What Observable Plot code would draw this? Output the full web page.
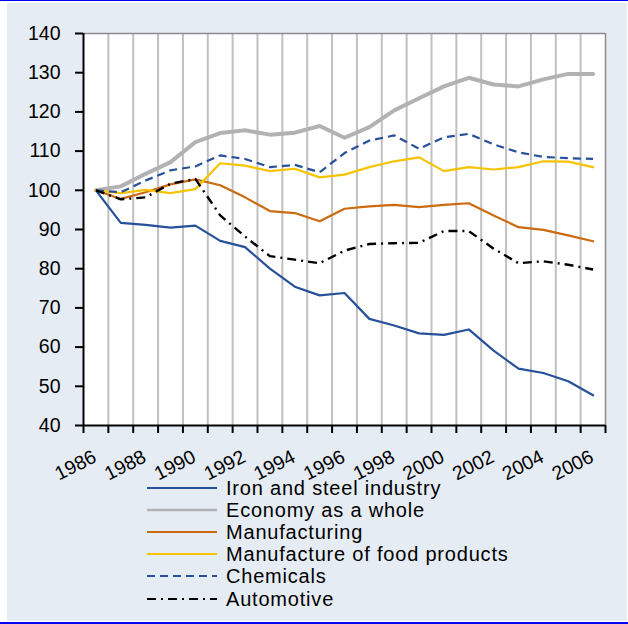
<!DOCTYPE html>
<html><head><meta charset="utf-8">
<script src="https://cdn.jsdelivr.net/npm/d3@7"></script>
<script src="https://cdn.jsdelivr.net/npm/@observablehq/plot@0.6"></script>
<style>
html,body{margin:0;padding:0;background:#fff;overflow:hidden;}
#page{position:relative;width:628px;height:624px;background:#fff;font-family:"Liberation Sans",Arial,sans-serif;}
#topline{position:absolute;left:0;top:0;width:628px;height:1px;background:#0000f0;}
#bg{position:absolute;left:7px;top:3px;width:620px;height:618px;background:#e6ecf4;}
#botline{position:absolute;left:0;top:622px;width:628px;height:2px;background:#0000f0;}
#chart{position:absolute;left:0;top:0;}
#legend{position:absolute;left:147px;top:477px;}
.row{display:flex;align-items:center;height:22.1px;}
.row svg{display:block;}
.row span{font-size:20px;line-height:22px;margin-left:9px;letter-spacing:0.8px;color:#000;white-space:nowrap;}
</style></head>
<body><div id="page"><div id="topline"></div><div id="bg"></div><div id="botline"></div><div id="chart"></div><div id="legend"></div></div>
<script>
const years = [1986,1987,1988,1989,1990,1991,1992,1993,1994,1995,1996,1997,1998,1999,2000,2001,2002,2003,2004,2005,2006];
const labelYears = [1986,1988,1990,1992,1994,1996,1998,2000,2002,2004,2006];
const yTicks = [40,50,60,70,80,90,100,110,120,130,140];

const iron = [100,91.7,91.2,90.5,91.0,87.1,85.5,80.0,75.4,73.2,73.8,67.2,65.5,63.5,63.1,64.5,59.1,54.5,53.4,51.3,47.7];
const economy = [100,101.0,104.2,107.2,112.3,114.6,115.3,114.2,114.7,116.4,113.4,116.1,120.4,123.5,126.5,128.7,127.0,126.5,128.3,129.7,129.7];
const manufacturing = [100,97.8,99.5,101.5,102.8,101.3,98.2,94.7,94.2,92.1,95.3,95.9,96.3,95.7,96.3,96.7,93.6,90.6,89.9,88.5,87.0];
const food = [100,99.3,100.1,99.3,100.3,106.9,106.3,104.9,105.5,103.3,104.0,105.9,107.4,108.4,104.9,105.9,105.3,105.9,107.4,107.3,105.9];
const chemicals = [100,99.5,102.5,105.1,106.1,108.9,108.0,105.9,106.5,104.6,109.5,112.7,114.0,110.6,113.5,114.4,111.7,109.7,108.5,108.2,108.0];
const automotive = [100,97.7,98.2,101.7,102.9,93.6,88.2,83.2,82.3,81.4,84.6,86.3,86.5,86.6,89.6,89.6,85.1,81.4,81.9,81.0,79.8];

const seriesNames = ["Iron and steel industry","Economy as a whole","Manufacturing","Manufacture of food products","Chemicals","Automotive"];
const seriesValues = [iron, economy, manufacturing, food, chemicals, automotive];
const seriesColors = ["#27509b","#b2b2b4","#cc6a10","#f5c300","#27509b","#000000"];
const seriesWidths = [2.2,4,2.2,2.2,2.2,2.4];
const seriesDash = [null,null,null,null,"8,5","9,5,2,5"];

const boundaries = [years[0]-0.5, ...years.map(y => y + 0.5)];
const inner = boundaries.slice(1, -1);

const lineMarks = seriesValues.map((vals, k) =>
  Plot.lineY(years.map((yr, i) => ({year: yr, value: vals[i]})), {
    x: "year", y: "value",
    stroke: seriesColors[k], strokeWidth: seriesWidths[k],
    strokeDasharray: seriesDash[k] || undefined,
    strokeLinejoin: "round", strokeLinecap: seriesDash[k] ? "butt" : "round"
  })
);

const chart = Plot.plot({
  width: 628, height: 500,
  marginLeft: 83, marginRight: 23, marginTop: 33, marginBottom: 75,
  style: {background: "transparent", fontFamily: "'Liberation Sans', Arial, sans-serif", fontSize: "19.5px", color: "#000"},
  x: {domain: [boundaries[0], boundaries[boundaries.length - 1]], label: null},
  y: {domain: [40, 140], label: null},
  marks: [
    Plot.frame({fill: "white", stroke: "none"}),
    Plot.ruleX(inner, {stroke: "#c0c0c0", strokeWidth: 2}),
    Plot.ruleY([140], {stroke: "#8c8c8c", strokeWidth: 1.5}),
    Plot.ruleX([boundaries[boundaries.length - 1]], {stroke: "#8c8c8c", strokeWidth: 1.5}),
    ...lineMarks,
    Plot.ruleX([boundaries[0]], {stroke: "#000", strokeWidth: 2}),
    Plot.ruleY([40], {stroke: "#000", strokeWidth: 2}),
    Plot.axisY({ticks: yTicks, tickSize: 8, tickPadding: 15, stroke: "#000", strokeWidth: 2, tickFormat: d => String(d), fill: "#000", fontSize: 19.5}),
    Plot.axisX({ticks: boundaries, tickSize: 8, stroke: "#000", strokeWidth: 2, tickFormat: () => ""}),
    Plot.text(labelYears, {x: d => d, frameAnchor: "bottom", text: d => String(d), rotate: -27, textAnchor: "end", lineAnchor: "middle", dy: 30, dx: -1, fontSize: 19.5, fill: "#000"})
  ]
});
document.getElementById("chart").appendChild(chart);

const legend = document.getElementById("legend");
seriesNames.forEach((name, k) => {
  const row = document.createElement("div");
  row.className = "row";
  const dash = seriesDash[k] ? ` stroke-dasharray="${seriesDash[k]}"` : "";
  const w = k === 1 ? 2.5 : 2.2;
  row.innerHTML = `<svg width="70" height="22"><line x1="0" x2="70" y1="11" y2="11" stroke="${seriesColors[k]}" stroke-width="${w}"${dash}/></svg><span>${name}</span>`;
  legend.appendChild(row);
});
</script>
</body></html>
